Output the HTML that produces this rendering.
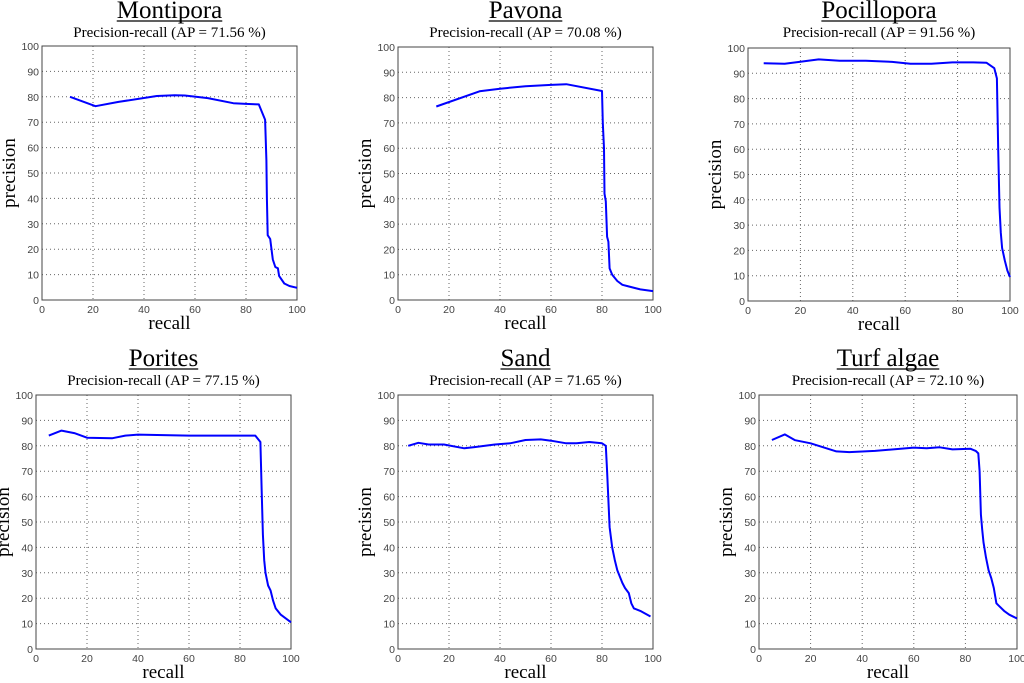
<!DOCTYPE html>
<html><head><meta charset="utf-8">
<style>
html,body{margin:0;padding:0;background:#fff;}
body{width:1024px;height:678px;overflow:hidden;}
svg text{font-family:"Liberation Serif",serif;}
.tick{font-family:"Liberation Sans",sans-serif;font-size:10.5px;fill:#444;}
</style></head>
<body>
<svg id="chart" width="1024" height="678" viewBox="0 0 1024 678" xmlns="http://www.w3.org/2000/svg"></svg>
<script>
// Data arrays (recall %, precision %)
const montiporaRecall = [11,21,30,45,52,56,65,75,80,85,87.5,88,88.2,88.5,89.5,90,90.5,91.5,92.5,93,95,97,100];
const montiporaPrecision = [80,76.3,78,80.3,80.6,80.5,79.5,77.5,77.2,77,71,55,40,25.5,24,20,16,13,12.5,9.5,6.5,5.5,4.8];
const pavonaRecall = [15,32,40,50,60,66,80,80.3,80.8,81,81.5,82,82.5,83,84,86,88,90,95,100];
const pavonaPrecision = [76.5,82.5,83.5,84.5,85,85.3,82.6,70,60,42,39,25,23,12.5,10,7.5,6,5.5,4.2,3.5];
const pocilloporaRecall = [6,14,20,27,35,45,55,62,70,78,86,91,94,95,95.5,96,96.5,97,98,99,100];
const pocilloporaPrecision = [94,93.8,94.6,95.5,95,95,94.5,93.8,93.8,94.3,94.3,94.2,92,88,60,37,27,21,16,12,9.5];
const poritesRecall = [5,10,15,20,30,35,40,50,60,70,80,86,88,88.5,89,89.5,90,91,92,93,94,96,100];
const poritesPrecision = [84,86,85,83.2,83,84,84.4,84.2,84,84,84,84,81.5,62,45,35,30,25,23,19,16,13.5,10.5];
const sandRecall = [4,8,12,18,26,30,38,44,50,56,60,66,70,75,80,81.5,82,83,84,85,86,88,89,90.5,91.5,92.5,95,99];
const sandPrecision = [80,81.2,80.5,80.5,79,79.5,80.5,81,82.3,82.5,82,81,81,81.5,81,80,70,48,40,35,31,26,24,22,18,16,15,12.8];
const turfRecall = [5,10,14,20,30,35,45,60,65,70,75,82,84,85,85.5,86,86.5,87,88,89,90,91,92,93,95,97,100];
const turfPrecision = [82.3,84.5,82.2,81,77.8,77.5,78,79.3,79,79.4,78.6,78.8,78,77,70,53,47,42,36,31,28,24,18,17,15,13.5,12];
const xTicks = [0,20,40,60,80,100];
const yTicks = [0,10,20,30,40,50,60,70,80,90,100];
const panelNames = ["Montipora","Pavona","Pocillopora","Porites","Sand","Turf algae"];
const panelAP = ["71.56","70.08","91.56","77.15","71.65","72.10"];
const panelRecall = [montiporaRecall,pavonaRecall,pocilloporaRecall,poritesRecall,sandRecall,turfRecall];
const panelPrecision = [montiporaPrecision,pavonaPrecision,pocilloporaPrecision,poritesPrecision,sandPrecision,turfPrecision];
// layout boxes [left, top, right, bottom]
const boxes = [[42,46,297,300],[398,47,653,300],[748,48,1010,301],[36,395,291,649],[398,395,653,649],[759,395,1017,649]];

const NS = "http://www.w3.org/2000/svg";
const svg = document.getElementById('chart');
function mk(tag, attrs, parent){const e=document.createElementNS(NS,tag);for(const k in attrs)e.setAttribute(k,attrs[k]);(parent||svg).appendChild(e);return e;}

panelNames.forEach((name,i)=>{
  const [L,T,R,B]=boxes[i];
  const g=mk('g',{});
  
  
  const sx=v=>L+(R-L)*v/100;
  const sy=v=>B-(B-T)*v/100;
  const cx=(L+R)/2;
  const base=i<3?18:366;
  const t=mk('text',{x:cx,y:base,'text-anchor':'middle','font-size':'25'},g);
  t.textContent=name;
  
  
  const w=t.getComputedTextLength();
  const ul=mk('line',{x1:cx-w/2,x2:cx+w/2,y1:base+3,y2:base+3,stroke:'#000','stroke-width':'1.3'},g);
  
  
  const st=mk('text',{x:cx,y:base+19,'text-anchor':'middle','font-size':'15'},g);
  st.textContent='Precision-recall (AP = '+panelAP[i]+' %)';
  
  
  xTicks.forEach(v=>{
    if(v>0&&v<100){const l=mk('line',{x1:sx(v),x2:sx(v),y1:T,y2:B,stroke:'#666','stroke-width':'1','stroke-dasharray':'1,3'},g);
      }
    const tx=mk('text',{x:sx(v),y:B+13,'text-anchor':'middle',class:'tick'},g);
    tx.textContent=v;
    
    
  });
  yTicks.forEach(v=>{
    if(v>0&&v<100){const l=mk('line',{x1:L,x2:R,y1:sy(v),y2:sy(v),stroke:'#666','stroke-width':'1','stroke-dasharray':'1,3'},g);
      }
    const tx=mk('text',{x:L-3,y:sy(v)+4,'text-anchor':'end',class:'tick'},g);
    tx.textContent=v;
    
    
  });
  const fr=mk('rect',{x:L,y:T,width:R-L,height:B-T,fill:'none',stroke:'#444','stroke-width':'1'},g);
  
  
  const pts=panelRecall[i].map((r,k)=>sx(r).toFixed(1)+','+sy(panelPrecision[i][k]).toFixed(1)).join(' ');
  const pl=mk('polyline',{points:pts,fill:'none',stroke:'#0000ff','stroke-width':'2','stroke-linejoin':'round'},g);
  
  
  const xl=mk('text',{x:cx,y:B+29,'text-anchor':'middle','font-size':'19'},g);
  xl.textContent='recall';
  
  
  const ly=(T+B)/2, lx=L-27;
  const yl=mk('text',{x:lx,y:ly,'text-anchor':'middle','font-size':'19',transform:'rotate(-90 '+lx+' '+ly+')'},g);
  yl.textContent='precision';
  
  
});
</script>
</body></html>
